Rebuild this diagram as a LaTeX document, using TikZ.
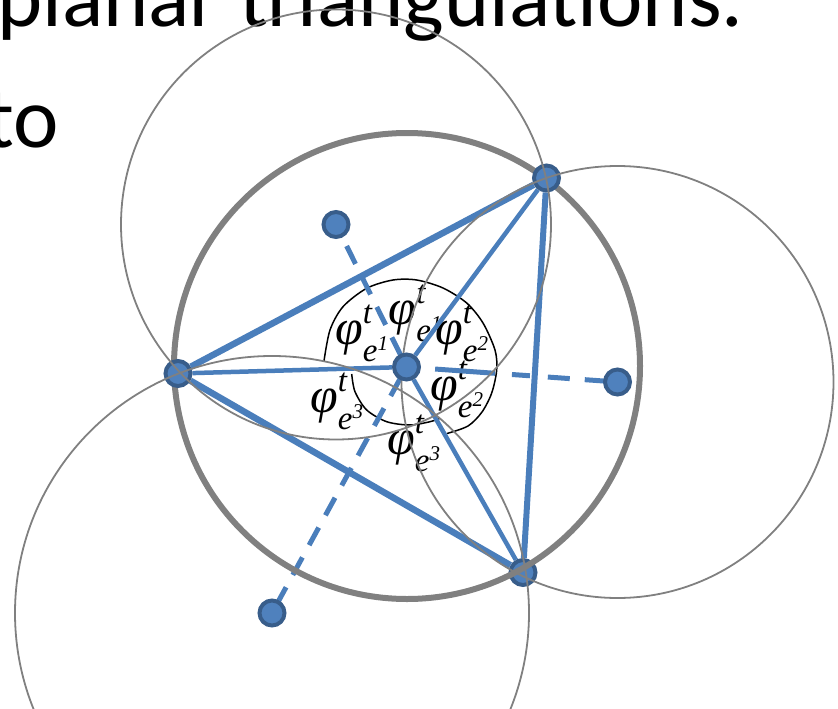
\documentclass[tikz,border=0pt]{standalone}
\usepackage{fontspec}
\newfontfamily\topfont{Carlito}
\newfontfamily\labfont{Liberation Serif}
\definecolor{blueln}{HTML}{4A7EBB}
\definecolor{nodefill}{HTML}{4F81BD}
\definecolor{nodeedge}{HTML}{385D8A}
\definecolor{grayln}{HTML}{808080}
\pgfdeclarelayer{lab}\pgfdeclarelayer{lines}\pgfdeclarelayer{low}\pgfdeclarelayer{ring}\pgfdeclarelayer{top}
\pgfsetlayers{lab,lines,low,ring,main,top}
\newcommand{\philab}[1]{\labfont\itshape\fontsize{50}{50}\selectfont φ\rlap{\raisebox{21pt}{\fontsize{33}{33}\selectfont t}}\raisebox{-17pt}{\fontsize{33}{33}\selectfont e\raisebox{11pt}{\fontsize{21}{21}\selectfont #1}}}
\begin{document}
\begin{tikzpicture}[x=1pt,y=-1pt,
 vtx/.style={circle, minimum size=25pt, inner sep=0pt, fill=nodefill, draw=nodeedge, line width=4pt},
 triedge/.style={draw=blueln, line width=6.5pt},
 spoke/.style={draw=blueln, line width=4.5pt},
 dline/.style={draw=blueln, line width=5pt},
 thincirc/.style={draw=grayln, line width=1.8pt},
 ringcirc/.style={draw=grayln, line width=6pt},
 anglearc/.style={draw=black, line width=1.5pt},
 lab/.style={anchor=base west, inner sep=0pt},
 toptxt/.style={anchor=base west, inner sep=0pt, font=\topfont\fontsize{86}{86}\selectfont}]
\useasboundingbox (0,0) rectangle (838,709);
% nodes
\begin{pgfonlayer}{low}
\node[vtx] (C) at (523,572.5) {};
\end{pgfonlayer}
\node[vtx] (A) at (546.5,178) {};
\node[vtx] (B) at (178,373.5) {};
\node[vtx] (P1) at (336,224.5) {};
\node[vtx] (P2) at (617.5,382) {};
\node[vtx] (P3) at (272,613) {};
\begin{pgfonlayer}{top}
\node[vtx] (O) at (406.5,367) {};
\end{pgfonlayer}
% thin circles
\draw[thincirc] (P1.center) circle[radius=215pt];
\draw[thincirc] (P2.center) circle[radius=216pt];
\draw[thincirc] (P3.center) circle[radius=257pt];
% big ring
\begin{pgfonlayer}{ring}
\coordinate (K) at (407,366);
\draw[ringcirc] (K) circle[radius=233pt];
\end{pgfonlayer}
% blue lines
\begin{pgfonlayer}{lines}
\draw[triedge] (A) -- (B);
\draw[triedge] (B) -- (C);
\draw[triedge, line width=6pt] (A) -- (C);
\draw[spoke] (O) -- (A);
\draw[spoke] (O) -- (B);
\draw[spoke] (O) -- (C);
\draw[dline, dash pattern=on 20pt off 14pt, dash phase=21pt] (O.center) -- (P1.center);
\draw[dline, dash pattern=on 0pt off 28.7pt on 60pt off 17pt on 18pt off 18pt on 22pt off 15pt on 40pt off 60pt] (O.center) -- (P2.center);
\draw[dline, dash pattern=on 20pt off 14pt, dash phase=21pt] (O.center) -- (P3.center);
\end{pgfonlayer}
% labels, arcs, text
\begin{pgfonlayer}{lab}
\node[toptxt] (T1) at (-3,27) {planar triangulations.};
\node[toptxt] (T2) at (-15,147) {to};
\draw[anglearc] plot[smooth] coordinates {(324,361) (330,330) (343,306.7) (366.7,288.3) (393,280) (416.7,280) (443,288) (466.7,303) (483,323) (495,350) (496.7,370) (491.7,393) (482,412) (468,426) (447,433.5)};
\draw[anglearc] plot[smooth] coordinates {(351.7,374) (355,391.7) (366.7,410) (386.7,421.7) (410,425) (430,421.7) (440,418.3)};
\node[lab] (L1) at (335,344) {\philab{1}};
\node[lab] (L2) at (388.5,324) {\philab{1}};
\node[lab] (L3) at (435,344) {\philab{2}};
\node[lab] (L4) at (430,400) {\philab{2}};
\node[lab] (L5) at (310,412) {\philab{3}};
\node[lab] (L6) at (387,454) {\philab{3}};
\end{pgfonlayer}
\end{tikzpicture}
\end{document}
